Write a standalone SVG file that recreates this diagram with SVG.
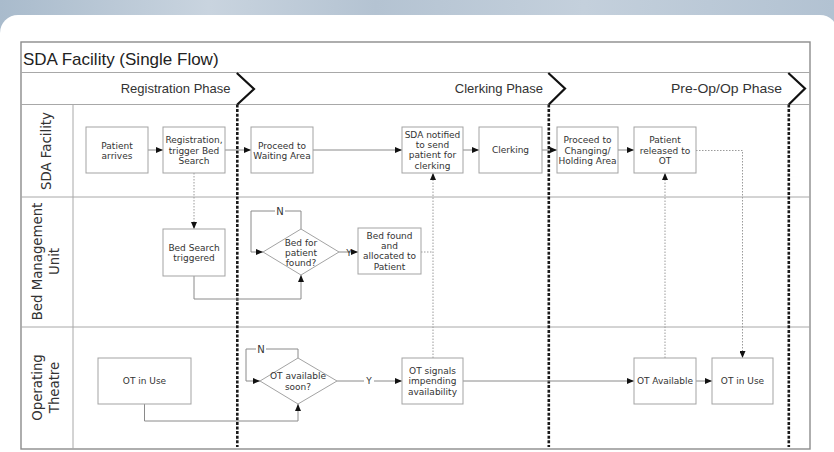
<svg xmlns="http://www.w3.org/2000/svg" width="834" height="452" viewBox="0 0 834 452">
<defs>
<linearGradient id="bg" x1="0" y1="0" x2="1" y2="0">
<stop offset="0" stop-color="#a9bbcc"/>
<stop offset="0.25" stop-color="#c9d4df"/>
<stop offset="0.45" stop-color="#b4c3d2"/>
<stop offset="0.7" stop-color="#c4d0dc"/>
<stop offset="1" stop-color="#b2c2d2"/>
</linearGradient>
<marker id="ah" markerUnits="userSpaceOnUse" markerWidth="7" markerHeight="6" refX="7" refY="3" orient="auto">
<path d="M0,0 L7,3 L0,6 z" fill="#111"/>
</marker>
<style>
.box{fill:#fff;stroke:#a3a3a3;stroke-width:1}
.t{font-family:"DejaVu Sans",Verdana,sans-serif;font-size:9px;fill:#333;text-anchor:middle}
.lane{font-family:"DejaVu Sans",Verdana,sans-serif;font-size:13.3px;fill:#333;text-anchor:middle}
.ph{font-family:"Liberation Sans",Arial,sans-serif;font-size:13px;fill:#333;text-anchor:end}
.grid{stroke:#a8a8a8;stroke-width:1;fill:none}
.c{stroke:#8a8a8a;stroke-width:1;fill:none}
.d{stroke:#9a9a9a;stroke-width:1;fill:none;stroke-dasharray:1.5 1.5}
.div{stroke:#1a1a1a;stroke-width:2.6;fill:none;stroke-dasharray:3 1.6}
.chev{stroke:#111;stroke-width:2.2;fill:none;stroke-linejoin:miter}
.lbl{font-family:"DejaVu Sans",Verdana,sans-serif;font-size:10px;fill:#333;text-anchor:middle}
</style>
</defs>
<rect x="0" y="0" width="834" height="452" fill="url(#bg)"/>
<rect x="0" y="15" width="838" height="460" rx="18" fill="#fff"/>

<g id="frame">
<rect x="21" y="42" width="789" height="407" fill="none" stroke="#8c8c8c" stroke-width="1.4"/>
<line class="grid" x1="21" y1="72.5" x2="810" y2="72.5"/>
<line class="grid" x1="21" y1="104.5" x2="810" y2="104.5"/>
<line class="grid" x1="21" y1="197" x2="810" y2="197"/>
<line class="grid" x1="21" y1="327" x2="810" y2="327"/>
<line class="grid" x1="73" y1="104.5" x2="73" y2="449"/>
<text x="23" y="65" font-family="'Liberation Sans',Arial,sans-serif" font-size="17" fill="#222">SDA Facility (Single Flow)</text>
<text class="ph" x="230.5" y="93">Registration Phase</text>
<text class="ph" x="543" y="93">Clerking Phase</text>
<text class="ph" x="782" y="93" textLength="111" lengthAdjust="spacingAndGlyphs">Pre-Op/Op Phase</text>
<text class="lane" transform="translate(50.5,151) rotate(-90)">SDA Facility</text>
<text class="lane" transform="translate(42,261.5) rotate(-90)">Bed Management</text>
<text class="lane" transform="translate(58.5,261.5) rotate(-90)">Unit</text>
<text class="lane" transform="translate(41.5,387.5) rotate(-90)">Operating</text>
<text class="lane" transform="translate(58.5,387.5) rotate(-90)">Theatre</text>
</g>

<g id="phase-dividers">
<path class="chev" d="M236.8,73 L254,89 L237.3,104.5"/>
<path class="chev" d="M548.3,73 L565,88.5 L548.8,104.5"/>
<path class="chev" d="M788.3,73 L805,88.5 L788.8,104.5"/>
<line class="div" x1="237.3" y1="104.5" x2="237.3" y2="447"/>
<line class="div" x1="548.8" y1="104.5" x2="548.8" y2="447"/>
<line class="div" x1="788.8" y1="104.5" x2="788.8" y2="447"/>
</g>

<g id="connectors">
<line class="c" x1="148" y1="150" x2="163" y2="150" marker-end="url(#ah)"/>
<line class="c" x1="225" y1="150" x2="251" y2="150" marker-end="url(#ah)"/>
<line class="c" x1="313" y1="150" x2="402" y2="150" marker-end="url(#ah)"/>
<line class="c" x1="463" y1="150" x2="479" y2="150" marker-end="url(#ah)"/>
<line class="c" x1="542" y1="150" x2="557" y2="150" marker-end="url(#ah)"/>
<line class="c" x1="618" y1="150" x2="634" y2="150" marker-end="url(#ah)"/>
<path class="d" d="M696,150.5 H742.5 V358" marker-end="url(#ah)"/>
<path class="d" d="M194,173 V229" marker-end="url(#ah)"/>
<path class="c" d="M194,276 V299 H301 V275" marker-end="url(#ah)"/>
<path class="c" d="M301,229 V211 H251 V252 H263" marker-end="url(#ah)"/>
<line class="c" x1="339" y1="252" x2="358" y2="252" marker-end="url(#ah)"/>
<path class="d" d="M421,252 H433"/>
<path class="d" d="M433,358 V173" marker-end="url(#ah)"/>
<path class="c" d="M144.5,404 V421 H298 V404" marker-end="url(#ah)"/>
<path class="c" d="M298,358 V349 H246 V381 H260" marker-end="url(#ah)"/>
<line class="c" x1="337" y1="381" x2="402" y2="381" marker-end="url(#ah)"/>
<line class="c" x1="463" y1="381" x2="634" y2="381" marker-end="url(#ah)"/>
<line class="c" x1="696" y1="381" x2="712" y2="381" marker-end="url(#ah)"/>
<path class="d" d="M665,358 V173" marker-end="url(#ah)"/>
<rect x="275" y="205" width="10" height="12" fill="#fff"/>
<text class="lbl" x="280" y="215">N</text>
<text class="t" x="349" y="255.5">Y</text>
<rect x="256" y="343" width="10" height="12" fill="#fff"/>
<text class="lbl" x="261" y="353">N</text>
<rect x="364" y="375" width="10" height="12" fill="#fff"/>
<text class="t" x="369" y="384.3">Y</text>
</g>

<g id="n-patient-arrives">
<rect class="box" x="86" y="127" width="62" height="46"/>
<text class="t" x="117" y="148.5">Patient<tspan x="117" dy="10.4">arrives</tspan></text>
</g>
<g id="n-registration">
<rect class="box" x="163" y="127" width="62" height="46"/>
<text class="t" x="194" y="143.3">Registration,<tspan x="194" dy="10.4">trigger Bed</tspan><tspan x="194" dy="10.4">Search</tspan></text>
</g>
<g id="n-waiting">
<rect class="box" x="251" y="127" width="62" height="46"/>
<text class="t" x="282" y="148.5">Proceed to<tspan x="282" dy="10.4">Waiting Area</tspan></text>
</g>
<g id="n-sda-notified">
<rect class="box" x="402" y="127" width="61" height="46"/>
<text class="t" x="432.5" y="137.6">SDA notified<tspan x="432.5" dy="10.4">to send</tspan><tspan x="432.5" dy="10.4">patient for</tspan><tspan x="432.5" dy="10.4">clerking</tspan></text>
</g>
<g id="n-clerking">
<rect class="box" x="479" y="127" width="63" height="46"/>
<text class="t" x="510.5" y="153.3">Clerking</text>
</g>
<g id="n-changing">
<rect class="box" x="557" y="127" width="61" height="46"/>
<text class="t" x="587.5" y="143.3">Proceed to<tspan x="587.5" dy="10.4">Changing/</tspan><tspan x="587.5" dy="10.4">Holding Area</tspan></text>
</g>
<g id="n-released">
<rect class="box" x="634" y="127" width="62" height="46"/>
<text class="t" x="665" y="143.3">Patient<tspan x="665" dy="10.4">released to</tspan><tspan x="665" dy="10.4">OT</tspan></text>
</g>
<g id="n-bed-search">
<rect class="box" x="163" y="229" width="62" height="47"/>
<text class="t" x="194" y="250.6">Bed Search<tspan x="194" dy="10.4">triggered</tspan></text>
</g>
<g id="n-bed-decision">
<polygon class="box" points="301,229 339,252 301,275 263,252"/>
<text class="t" x="301" y="245.6">Bed for<tspan x="301" dy="10.4">patient</tspan><tspan x="301" dy="10.4">found?</tspan></text>
</g>
<g id="n-bed-found">
<rect class="box" x="358" y="228" width="63" height="46"/>
<text class="t" x="389.5" y="238.6">Bed found<tspan x="389.5" dy="10.4">and</tspan><tspan x="389.5" dy="10.4">allocated to</tspan><tspan x="389.5" dy="10.4">Patient</tspan></text>
</g>
<g id="n-ot-in-use-1">
<rect class="box" x="98" y="358" width="93" height="46"/>
<text class="t" x="144.5" y="384.3">OT in Use</text>
</g>
<g id="n-ot-decision">
<polygon class="box" points="298,358 337,381 298,404 260,381"/>
<text class="t" x="298" y="379.3">OT available<tspan x="298" dy="10.4">soon?</tspan></text>
</g>
<g id="n-ot-signals">
<rect class="box" x="402" y="358" width="61" height="46"/>
<text class="t" x="432.5" y="374">OT signals<tspan x="432.5" dy="10.4">impending</tspan><tspan x="432.5" dy="10.4">availability</tspan></text>
</g>
<g id="n-ot-available">
<rect class="box" x="634" y="358" width="62" height="46"/>
<text class="t" x="665" y="384.3">OT Available</text>
</g>
<g id="n-ot-in-use-2">
<rect class="box" x="712" y="358" width="61" height="46"/>
<text class="t" x="742.5" y="384.3">OT in Use</text>
</g>
</svg>
